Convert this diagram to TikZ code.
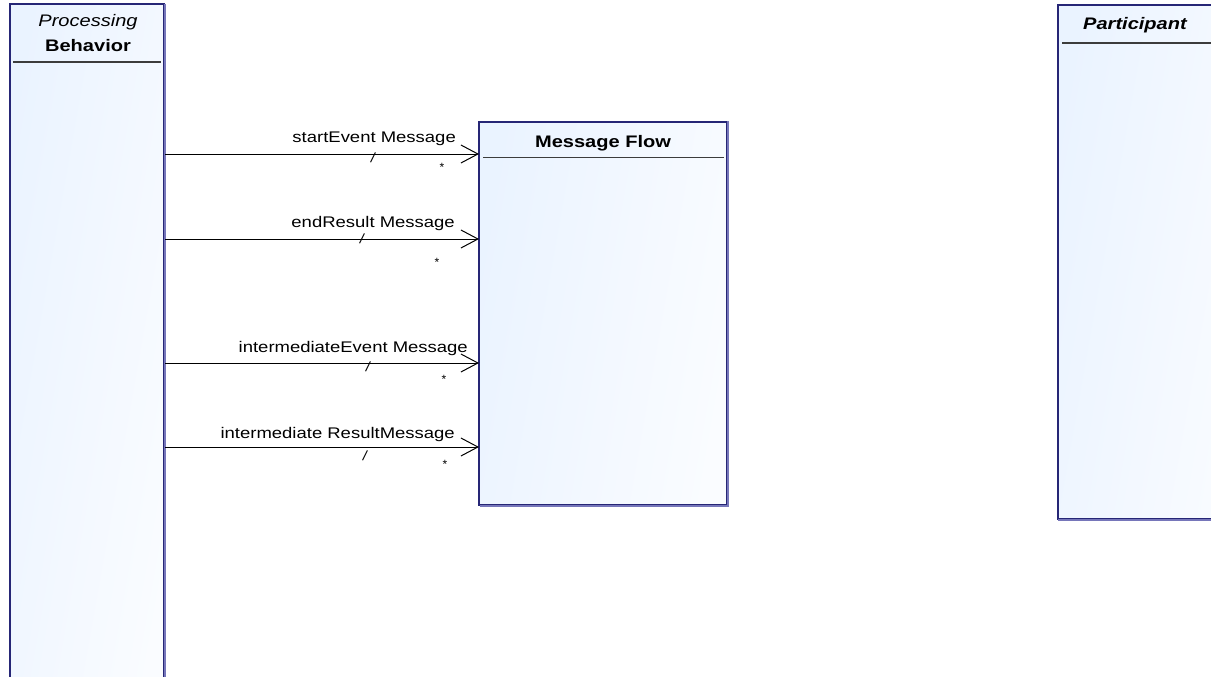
\documentclass[tikz,border=0pt]{standalone}
\usepackage{fontspec}
\setmainfont{Liberation Sans}
\usetikzlibrary{arrows.meta}
\definecolor{edgenavy}{RGB}{38,38,118}
\definecolor{edgeshade}{RGB}{118,118,186}
\definecolor{fillleft}{RGB}{234,243,255}
\definecolor{fillright}{RGB}{250,252,255}
\definecolor{rulegray}{RGB}{60,60,60}
\newcommand\widetext[1]{\scalebox{1.2}[1]{#1}}
\tikzset{
  classbox/.style={draw=edgenavy, line width=1.2pt, left color=fillleft,
    right color=fillright, shading angle=80, anchor=north west,
    inner sep=0pt, outer sep=0pt},
  boxshade/.style={draw=edgeshade, line width=1.6pt},
  titlerule/.style={draw=rulegray, line width=1.3pt},
  title/.style={inner sep=0pt, font=\fontsize{16.7}{19}\selectfont},
  flow/.style={draw=black, line width=0.9pt,
    -{Straight Barb[length=17pt, width=18pt, line width=1pt]}},
  rolename/.style={inner sep=0pt, anchor=base east,
    font=\fontsize{15.4}{18}\selectfont},
  marker/.style={inner sep=0pt, font=\fontsize{14.5}{17}\selectfont},
  mult/.style={inner sep=0pt, font=\fontsize{12}{13}\selectfont}
}
\newcommand\slashmark{\rotatebox{-11}{/}}
\begin{document}
\begin{tikzpicture}[x=1pt, y=-1pt]
\useasboundingbox (0,0) rectangle (1211,677);
\clip (0,0) rectangle (1211,677);

% class boxes
\node[classbox, minimum width=154pt, minimum height=700pt] (pb) at (10,4) {};
\node[classbox, minimum width=248pt, minimum height=383pt] (mf) at (479,122) {};
\node[classbox, minimum width=200pt, minimum height=514pt] (pt) at (1058,5) {};

% drop shade on right and bottom edges
\draw[boxshade] ([xshift=1pt]pb.north east) -- ([xshift=1pt]pb.south east);
\draw[boxshade] ([xshift=1pt,yshift=1pt]mf.north east) -- ([xshift=1pt,yshift=-1pt]mf.south east) -- ([xshift=1pt,yshift=-1pt]mf.south west);
\draw[boxshade] ([yshift=-1pt]pt.south west) -- ([xshift=200pt,yshift=-1pt]pt.south west);

% compartments and titles
\node[title, anchor=base] (pbtitle1) at (88,27) {\widetext{\itshape Processing}};
\node[title, anchor=base] (pbtitle2) at (88,52) {\widetext{\bfseries Behavior}};
\draw[titlerule] (13,62) -- (161,62);

\node[title, anchor=base] (mftitle) at (603,147) {\widetext{\bfseries Message Flow}};
\draw[titlerule] (483,157.5) -- (724,157.5);

\node[title, anchor=base] (pttitle) at (1135,30) {\widetext{\bfseries\itshape Participant}};
\draw[titlerule] (1062,43) -- (1211,43);

% associations
\draw[flow] ([xshift=1pt]pb.east |- 0,154) -- (mf.west |- 0,154);
\draw[flow] ([xshift=1pt]pb.east |- 0,239) -- (mf.west |- 0,239);
\draw[flow] ([xshift=1pt]pb.east |- 0,363) -- (mf.west |- 0,363);
\draw[flow] ([xshift=1pt]pb.east |- 0,447) -- (mf.west |- 0,447);

% role names
\node[rolename] (r1) at (456,142) {\widetext{startEvent Message}};
\node[rolename] (r2) at (455,227) {\widetext{endResult Message}};
\node[rolename] (r3) at (468,352) {\widetext{intermediateEvent Message}};
\node[rolename] (r4) at (455,438) {\widetext{intermediate ResultMessage}};

% derived markers
\node[marker] (d1) at (373,158) {\slashmark};
\node[marker] (d2) at (362,239) {\slashmark};
\node[marker] (d3) at (368,367) {\slashmark};
\node[marker] (d4) at (365,456) {\slashmark};

% multiplicities
\node[mult] (m1) at (442,167) {*};
\node[mult] (m2) at (437,262) {*};
\node[mult] (m3) at (444,379) {*};
\node[mult] (m4) at (445,464) {*};
\end{tikzpicture}
\end{document}
